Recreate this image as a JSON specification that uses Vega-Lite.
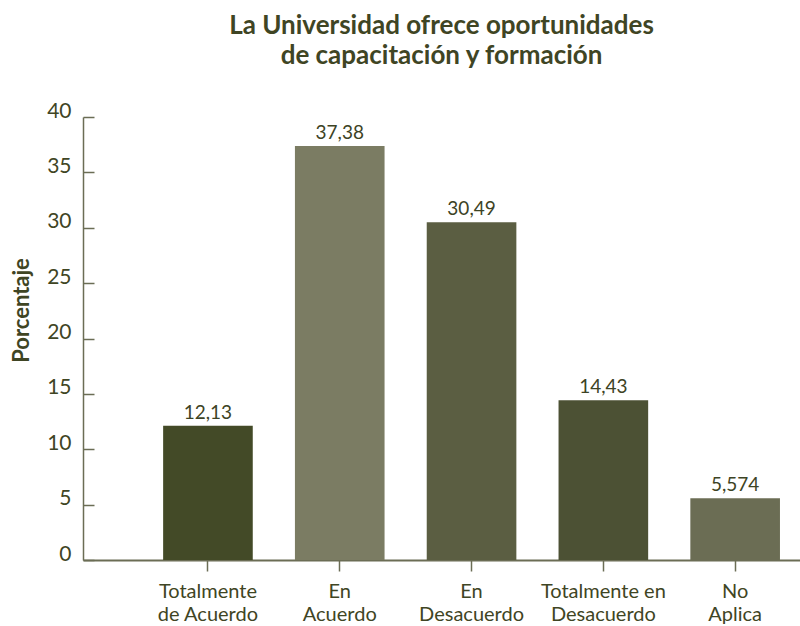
{
  "$schema": "https://vega.github.io/schema/vega-lite/v6.json",
  "width": 717,
  "height": 443,
  "autosize": {"type": "none"},
  "padding": {"left": 83, "top": 117, "right": 0, "bottom": 66},
  "background": "white",
  "config": {
    "view": {"stroke": null},
    "font": "Lato",
    "locale": {"number": {"decimal": ",", "thousands": ".", "grouping": [3], "currency": ["$", ""]}}
  },
  "title": {
    "text": ["La Universidad ofrece oportunidades", "de capacitación y formación"],
    "font": "Lato",
    "fontSize": 26,
    "fontWeight": "bold",
    "color": "#3f4524",
    "lineHeight": 30,
    "anchor": "middle",
    "offset": 31
  },
  "data": {
    "values": [
      {"categoria": "Totalmente de Acuerdo", "porcentaje": 12.13},
      {"categoria": "En Acuerdo", "porcentaje": 37.38},
      {"categoria": "En Desacuerdo", "porcentaje": 30.49},
      {"categoria": "Totalmente en Desacuerdo", "porcentaje": 14.43},
      {"categoria": "No Aplica", "porcentaje": 5.574}
    ]
  },
  "encoding": {
    "x": {
      "field": "categoria",
      "type": "nominal",
      "sort": null,
      "scale": {"paddingInner": 0.32, "paddingOuter": 0.38, "align": 0.8},
      "axis": {
        "title": null,
        "labelAngle": 0,
        "labelFont": "Lato",
        "labelFontSize": 20,
        "labelColor": "#3f4524",
        "labelLineHeight": 23,
        "labelPadding": 10,
        "tickSize": 11,
        "tickColor": "#6b6d55",
        "tickWidth": 1.5,
        "domainColor": "#6b6d55",
        "domainWidth": 2,
        "labelExpr": "datum.label == 'Totalmente de Acuerdo' ? ['Totalmente', 'de Acuerdo'] : datum.label == 'En Acuerdo' ? ['En', 'Acuerdo'] : datum.label == 'En Desacuerdo' ? ['En', 'Desacuerdo'] : datum.label == 'Totalmente en Desacuerdo' ? ['Totalmente en', 'Desacuerdo'] : ['No', 'Aplica']"
      }
    },
    "y": {
      "field": "porcentaje",
      "type": "quantitative",
      "scale": {"domain": [0, 40], "nice": false},
      "axis": {
        "title": "Porcentaje",
        "titleFont": "Lato",
        "titleFontSize": 22,
        "titleFontWeight": "bold",
        "titleColor": "#3f4524",
        "titleX": -62,
        "titleY": 193,
        "titleAngle": -90,
        "titleAlign": "center",
        "titleBaseline": "middle",
        "values": [0, 5, 10, 15, 20, 25, 30, 35, 40],
        "grid": false,
        "labelFont": "Lato",
        "labelFontSize": 21,
        "labelColor": "#3f4524",
        "labelBaseline": "alphabetic",
        "labelPadding": 23,
        "tickSize": -11,
        "tickColor": "#6b6d55",
        "tickWidth": 1.5,
        "domainColor": "#6b6d55",
        "domainWidth": 1.5
      }
    }
  },
  "layer": [
    {
      "mark": {"type": "bar"},
      "encoding": {
        "color": {
          "field": "categoria",
          "type": "nominal",
          "scale": {
            "domain": ["Totalmente de Acuerdo", "En Acuerdo", "En Desacuerdo", "Totalmente en Desacuerdo", "No Aplica"],
            "range": ["#434a27", "#7b7c63", "#5b5e42", "#4c5134", "#6b6d54"]
          },
          "legend": null
        }
      }
    },
    {
      "mark": {"type": "text", "baseline": "alphabetic", "dy": -7, "font": "Lato", "fontSize": 19, "color": "#3d4324"},
      "encoding": {
        "text": {"field": "porcentaje", "type": "quantitative", "format": ".4r"}
      }
    }
  ]
}
